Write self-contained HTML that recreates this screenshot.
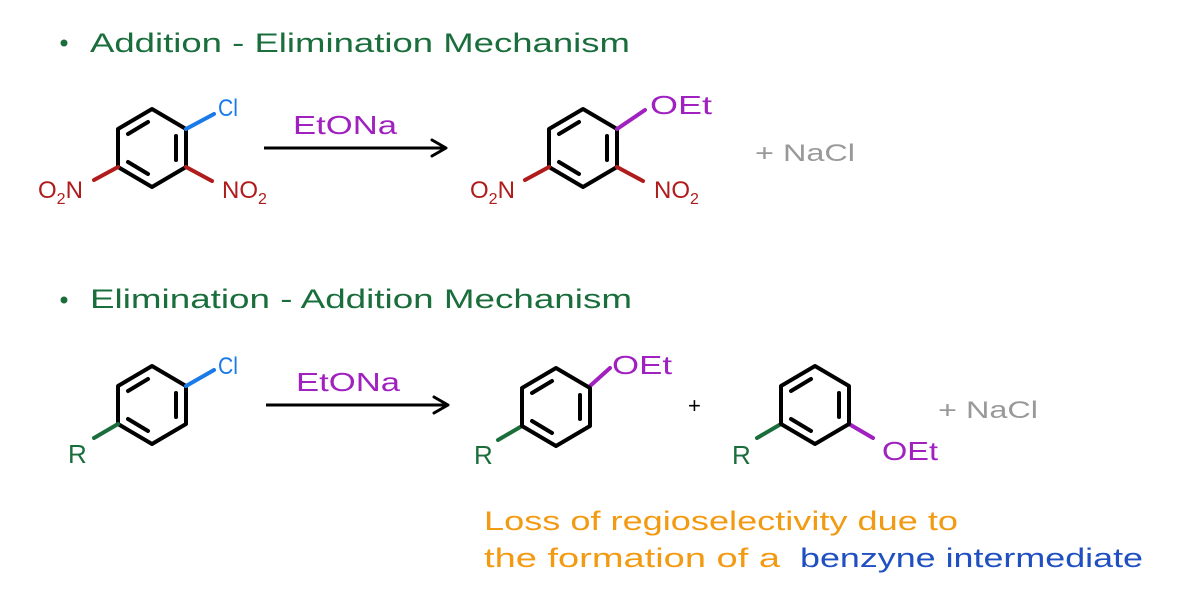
<!DOCTYPE html>
<html><head><style>body{margin:0;background:#fff}svg{display:block}text{font-family:"Liberation Sans",sans-serif}</style></head><body>
<svg width="1194" height="610" viewBox="0 0 1194 610" xmlns="http://www.w3.org/2000/svg">
<defs>
<g id="ring" fill="none" stroke="#000" stroke-width="4" stroke-linejoin="round" stroke-linecap="round">
<polygon points="0,-39 34,-19 34,19 0,39 -34,19 -34,-19"/>
<line x1="-24" y1="-14" x2="-4" y2="-26"/>
<line x1="24" y1="-12" x2="24" y2="12"/>
<line x1="-24" y1="14" x2="-4" y2="26"/>
</g>
</defs>
<g fill="#1a6e3c" font-size="27">
<circle cx="64" cy="43" r="3.5"/>
<text x="90" y="52" textLength="540" lengthAdjust="spacingAndGlyphs">Addition - Elimination Mechanism</text>
<circle cx="64" cy="300" r="3.5"/>
<text x="90" y="308" textLength="542" lengthAdjust="spacingAndGlyphs">Elimination - Addition Mechanism</text>
</g>
<use href="#ring" x="152" y="148"/>
<g stroke-width="4" stroke-linecap="round">
<line x1="186" y1="129" x2="214" y2="114" stroke="#1a7ae8"/>
<line x1="186" y1="167" x2="212" y2="181" stroke="#b01b1b"/>
<line x1="118" y1="167" x2="94" y2="180" stroke="#b01b1b"/>
</g>
<text x="218" y="116" fill="#1a7ae8" font-size="24" textLength="20" lengthAdjust="spacingAndGlyphs">Cl</text>
<text x="222" y="198" fill="#b01b1b" font-size="24">NO<tspan font-size="16" dy="6">2</tspan></text>
<text x="38" y="198" fill="#b01b1b" font-size="24">O<tspan font-size="16" dy="6">2</tspan><tspan dy="-6">N</tspan></text>
<text x="293" y="134" fill="#a020c0" font-size="26" textLength="104" lengthAdjust="spacingAndGlyphs">EtONa</text>
<line x1="264" y1="148" x2="446" y2="148" stroke="#000" stroke-width="3"/>
<polyline points="432,140 446,148 432,156" fill="none" stroke="#000" stroke-width="3" stroke-linecap="round" stroke-linejoin="round"/>
<use href="#ring" x="583" y="148"/>
<g stroke-width="4" stroke-linecap="round">
<line x1="617" y1="129" x2="645" y2="110" stroke="#a020c0"/>
<line x1="617" y1="167" x2="643" y2="181" stroke="#b01b1b"/>
<line x1="549" y1="167" x2="525" y2="180" stroke="#b01b1b"/>
</g>
<text x="650" y="114" fill="#a020c0" font-size="26" textLength="62" lengthAdjust="spacingAndGlyphs">OEt</text>
<text x="654" y="198" fill="#b01b1b" font-size="24">NO<tspan font-size="16" dy="6">2</tspan></text>
<text x="470" y="198" fill="#b01b1b" font-size="24">O<tspan font-size="16" dy="6">2</tspan><tspan dy="-6">N</tspan></text>
<text x="755" y="161" fill="#999" font-size="24" textLength="100" lengthAdjust="spacingAndGlyphs">+ NaCl</text>
<use href="#ring" x="152" y="405"/>
<g stroke-width="4" stroke-linecap="round">
<line x1="186" y1="386" x2="214" y2="370" stroke="#1a7ae8"/>
<line x1="118" y1="424" x2="94" y2="438" stroke="#1a6e3c"/>
<line x1="590" y1="386" x2="610" y2="368" stroke="#a020c0"/>
<line x1="522" y1="426" x2="498" y2="440" stroke="#1a6e3c"/>
<line x1="781" y1="424" x2="757" y2="438" stroke="#1a6e3c"/>
<line x1="849" y1="424" x2="873" y2="438" stroke="#a020c0"/>
</g>
<text x="218" y="374" fill="#1a7ae8" font-size="24" textLength="20" lengthAdjust="spacingAndGlyphs">Cl</text>
<text x="68" y="463" fill="#1a6e3c" font-size="26">R</text>
<text x="296" y="391" fill="#a020c0" font-size="26" textLength="104" lengthAdjust="spacingAndGlyphs">EtONa</text>
<line x1="266" y1="405" x2="448" y2="405" stroke="#000" stroke-width="3"/>
<polyline points="434,397 448,405 434,413" fill="none" stroke="#000" stroke-width="3" stroke-linecap="round" stroke-linejoin="round"/>
<use href="#ring" x="556" y="407"/>
<text x="612" y="374" fill="#a020c0" font-size="26" textLength="60" lengthAdjust="spacingAndGlyphs">OEt</text>
<text x="474" y="464" fill="#1a6e3c" font-size="26">R</text>
<text x="688" y="413" fill="#000" font-size="22">+</text>
<use href="#ring" x="815" y="405"/>
<text x="732" y="464" fill="#1a6e3c" font-size="26">R</text>
<text x="882" y="460" fill="#a020c0" font-size="26" textLength="56" lengthAdjust="spacingAndGlyphs">OEt</text>
<text x="938" y="418" fill="#999" font-size="24" textLength="100" lengthAdjust="spacingAndGlyphs">+ NaCl</text>
<text x="484" y="530" fill="#f29a12" font-size="27" textLength="474" lengthAdjust="spacingAndGlyphs">Loss of regioselectivity due to</text>
<text x="484" y="567" fill="#f29a12" font-size="27" textLength="296" lengthAdjust="spacingAndGlyphs">the formation of a</text>
<text x="800" y="567" fill="#1f4fc0" font-size="27" textLength="343" lengthAdjust="spacingAndGlyphs">benzyne intermediate</text>
</svg>
</body></html>
